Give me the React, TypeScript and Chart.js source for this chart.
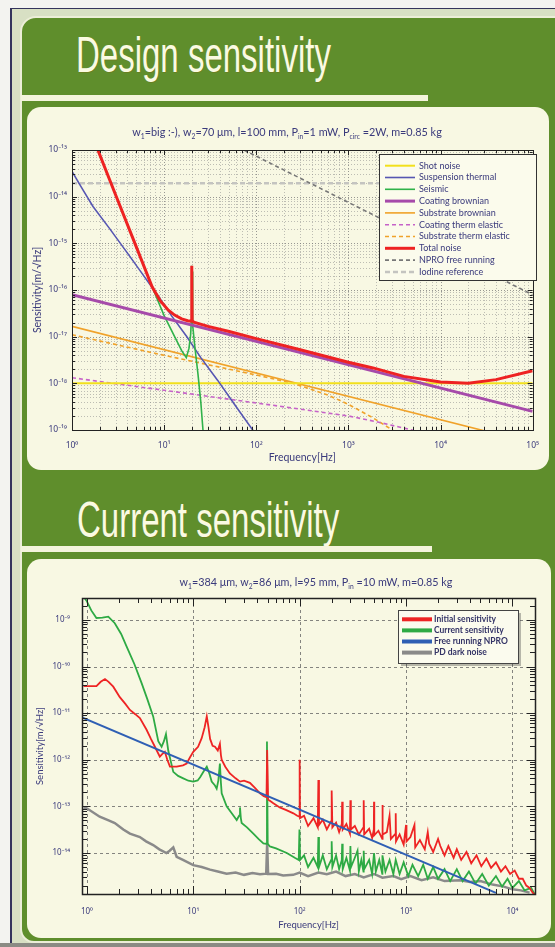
import React, { useEffect, useRef } from "react";
import { Chart, registerables } from "chart.js";

Chart.register(...registerables);

// ================= Design sensitivity (upper chart) =================
const designSubtitle = "w_{1}=big :-), w_{2}=70 μm, l=100 mm, P_{in}=1 mW, P_{circ} =2W, m=0.85 kg";
const designXMajor = [1, 10, 100, 1000, 10000, 100000];
const designYMajor = [1e-19, 1e-18, 1e-17, 1e-16, 1e-15, 1e-14, 1e-13];

const shotFreq = [1, 100000];
const shotVal = [1e-18, 1e-18];

const suspFreq = [1, 1.3, 1.69, 2.55, 4, 5.5, 8.7, 12, 17.5, 25, 38, 60, 97];
const suspVal = [3.47e-14, 1.45e-14, 6.17e-15, 2.09e-15, 6.17e-16, 2.57e-16, 7.24e-17, 2.82e-17, 1.02e-17, 3.55e-18, 1.17e-18, 3.24e-19, 8.5e-20];

const seisFreq = [1.9, 3, 5, 7.4, 10, 13, 15.5, 17.4, 18.6, 19.4, 19.7, 19.9, 20.0, 20.1, 20.4, 21.5, 23.3, 25, 26.4, 28];
const seisVal = [1.0e-13, 1.05e-14, 8.3e-16, 1.17e-16, 2.82e-17, 1.0e-17, 5.0e-18, 3.55e-18, 5.6e-18, 1.12e-17, 2.0e-17, 2.5e-16, 3.3e-16, 2.5e-16, 1.78e-17, 6.3e-18, 1.58e-18, 4.0e-19, 1.0e-19, 3.2e-20];

const coatBrFreq = [1, 100000];
const coatBrVal = [7.94e-17, 2.51e-19];

const subBrFreq = [1, 100000];
const subBrVal = [1.66e-17, 5.25e-20];

const coatTeFreq = [1, 10, 100, 1000, 2000, 4900, 8000];
const coatTeVal = [1.32e-18, 7.1e-19, 3.8e-19, 2.0e-19, 1.51e-19, 1.0e-19, 6.3e-20];

const subTeFreq = [1, 10, 100, 250, 600, 1000, 1850, 3000, 4500];
const subTeVal = [1.1e-17, 3.98e-18, 1.51e-18, 1.0e-18, 5.6e-19, 3.55e-19, 1.82e-19, 1.0e-19, 5.0e-20];

const totalFreq = [1.85, 3, 5, 7.4, 9, 11.1, 13, 15.5, 18, 19.6, 19.85, 19.95, 20.05, 20.15, 21, 30, 50.9, 100, 300, 1000, 1850, 4000, 10000, 20000, 40000, 100000];
const totalVal = [1.17e-13, 1.05e-14, 8.3e-16, 1.17e-16, 6.0e-17, 3.7e-17, 2.9e-17, 2.4e-17, 2.19e-17, 2.14e-17, 2.2e-17, 3.3e-16, 3.3e-16, 2.2e-17, 2.04e-17, 1.66e-17, 1.29e-17, 9.1e-18, 5.25e-18, 2.82e-18, 2.14e-18, 1.41e-18, 1.07e-18, 1.0e-18, 1.2e-18, 1.86e-18];

const nproFreq = [73.5, 100000];
const nproVal = [1e-13, 7.9e-17];

const iodineFreq = [1, 100000];
const iodineVal = [1.95e-14, 1.95e-14];

// ================= Current sensitivity (lower chart) =================
const currentSubtitle = "w_{1}=384 μm, w_{2}=86 μm, l=95 mm, P_{in} =10 mW, m=0.85 kg";
const currentXMajor = [1, 10, 100, 1000, 10000];
const currentYMajor = [1e-15, 1e-14, 1e-13, 1e-12, 1e-11, 1e-10, 1e-9];

const initialFreq = [0.93, 1.0, 1.23, 1.35, 1.48, 1.6, 1.77, 2.04, 2.3, 2.54, 2.85, 3.15, 3.64, 4.0, 4.36, 4.85, 5.1, 5.41, 5.7, 6.04, 6.98, 8.0, 8.67, 9.3, 10, 11.1, 12, 12.8, 13.4, 13.9, 14.4, 15.2, 16.0, 17.0, 17.8, 18.2, 18.5, 20.0, 22.1, 25, 27.5, 30, 34.1, 38, 42.4, 46, 48.8, 49.5, 50.5, 56.6, 65, 75, 87.3, 95, 99.3, 100, 100.8, 110, 120, 135, 148, 150, 152, 165, 180, 198, 200, 203, 220, 235, 249, 251, 254, 275, 297, 300, 303, 330, 360, 398, 400, 404, 450, 480, 498, 500, 503, 550, 598, 600, 604, 660, 700, 720, 798, 800, 805, 870, 950, 1000, 1010, 1100, 1200, 1220, 1350, 1500, 1600, 1650, 1800, 2000, 2100, 2300, 2500, 2800, 3000, 3300, 3700, 4100, 4600, 5100, 5700, 6300, 7000, 7800, 8600, 9500, 10500, 11500, 12500, 13500, 14500, 15500, 16300];
const initialVal = [3.8e-11, 3.8e-11, 3.8e-11, 4.7e-11, 5.4e-11, 4.7e-11, 3.7e-11, 2.2e-11, 1.58e-11, 1.17e-11, 9.5e-12, 7.8e-12, 4.4e-12, 2.8e-12, 1.9e-12, 1.17e-12, 1.32e-12, 1.48e-12, 1.0e-12, 7.1e-13, 7.1e-13, 7.6e-13, 8.3e-13, 1.12e-12, 1.48e-12, 1.9e-12, 2.9e-12, 5.0e-12, 8.5e-12, 5.0e-12, 2.8e-12, 2.0e-12, 1.9e-12, 1.58e-12, 2.2e-12, 1.26e-12, 1.0e-12, 7.1e-13, 5.1e-13, 4.0e-13, 3.4e-13, 3.55e-13, 3.2e-13, 2.5e-13, 1.9e-13, 1.66e-13, 1.58e-13, 1.62e-12, 1.41e-13, 1.17e-13, 9.5e-14, 8.3e-14, 7.1e-14, 6.3e-14, 6.0e-14, 1.0e-12, 5.6e-14, 6.3e-14, 3.8e-14, 5.6e-14, 3.55e-14, 3.7e-13, 4.0e-14, 5.2e-14, 3.2e-14, 4.8e-14, 2.2e-13, 3.55e-14, 4.5e-14, 2.8e-14, 4.2e-14, 1.26e-13, 3.2e-14, 4.2e-14, 2.6e-14, 1.35e-13, 3.2e-14, 3.8e-14, 2.5e-14, 3.55e-14, 1.35e-13, 2.5e-14, 3.3e-14, 2.1e-14, 3.2e-14, 1.26e-13, 2.4e-14, 3.0e-14, 2.0e-14, 1.07e-13, 2.5e-14, 2.8e-14, 6.3e-14, 2.0e-14, 2.6e-14, 7.1e-14, 1.78e-14, 2.5e-14, 1.51e-14, 4.0e-14, 1.78e-14, 2.2e-14, 4.0e-14, 1.32e-14, 1.9e-14, 1.2e-14, 2.8e-14, 1.58e-14, 1.05e-14, 2.0e-14, 1.41e-14, 8.9e-15, 1.41e-14, 7.9e-15, 1.2e-14, 7.1e-15, 1.05e-14, 6.0e-15, 8.9e-15, 5.2e-15, 7.6e-15, 4.8e-15, 6.3e-15, 4.0e-15, 5.2e-15, 3.55e-15, 4.2e-15, 2.8e-15, 2.8e-15, 2.0e-15, 1.78e-15, 1.41e-15, 1.26e-15];

const currentFreq = [0.93, 1.0, 1.1, 1.23, 1.4, 1.59, 1.83, 2.1, 2.36, 2.8, 3.27, 3.7, 4.2, 4.69, 5.04, 5.3, 5.54, 5.82, 6.49, 7.2, 8.05, 9.0, 10, 11.0, 11.6, 12.5, 13.4, 14.2, 14.9, 16.0, 16.6, 17.2, 17.8, 18.2, 18.5, 20.6, 23, 25.6, 27.0, 27.5, 28.0, 28.5, 32, 36.7, 41, 45.6, 48.5, 49.3, 50.1, 52.5, 60, 75.7, 90, 98, 99.6, 101, 110, 120, 135, 148, 150, 152, 165, 180, 198, 200, 203, 220, 235, 249, 251, 254, 275, 297, 300, 304, 330, 350, 360, 380, 398, 400, 405, 450, 480, 500, 520, 560, 598, 600, 640, 700, 760, 800, 870, 950, 1050, 1150, 1300, 1450, 1600, 1800, 2000, 2300, 2600, 3000, 3400, 3900, 4500, 5200, 6000, 7000, 8000, 9000, 10000, 11500, 13000, 15000, 16300];
const currentVal = [3.2e-9, 2.5e-9, 1.6e-9, 1.1e-9, 1.12e-9, 1.17e-9, 8.5e-10, 5.0e-10, 2.7e-10, 1.12e-10, 4.4e-11, 2.0e-11, 8.5e-12, 2.5e-12, 1.9e-12, 2.5e-12, 3.55e-12, 1.58e-12, 5.5e-13, 4.5e-13, 4.0e-13, 3.55e-13, 3.4e-13, 3.6e-13, 4.2e-13, 5.6e-13, 7.1e-13, 5.0e-13, 3.4e-13, 2.8e-13, 2.4e-13, 3.55e-13, 8.3e-13, 3.2e-13, 1.9e-13, 1.0e-13, 7.1e-14, 5.1e-14, 6.3e-14, 9.5e-14, 5.6e-14, 4.4e-14, 3.55e-14, 2.6e-14, 2.0e-14, 1.6e-14, 1.58e-14, 2.45e-12, 1.58e-14, 1.38e-14, 1.26e-14, 1.0e-14, 7.9e-15, 7.1e-15, 3.2e-14, 7.1e-15, 8.9e-15, 5.0e-15, 7.9e-15, 5.0e-15, 2.2e-14, 5.0e-15, 8.9e-15, 4.5e-15, 7.1e-15, 1.78e-14, 5.0e-15, 8.9e-15, 4.5e-15, 7.1e-15, 1.58e-14, 4.5e-15, 7.9e-15, 4.2e-15, 1.41e-14, 5.0e-15, 7.9e-15, 1.12e-14, 4.0e-15, 7.1e-15, 4.0e-15, 1.12e-14, 4.5e-15, 7.1e-15, 3.55e-15, 1.0e-14, 4.0e-15, 7.1e-15, 3.55e-15, 8.9e-15, 4.0e-15, 7.1e-15, 3.55e-15, 7.1e-15, 3.55e-15, 6.3e-15, 3.2e-15, 5.6e-15, 3.2e-15, 5.6e-15, 2.8e-15, 5.0e-15, 2.8e-15, 4.5e-15, 2.5e-15, 4.5e-15, 2.5e-15, 4.0e-15, 2.2e-15, 3.55e-15, 2.0e-15, 3.2e-15, 1.9e-15, 2.8e-15, 1.78e-15, 2.5e-15, 1.58e-15, 1.78e-15, 1.26e-15];

const npro2Freq = [0.9, 7000];
const npro2Val = [8.1e-12, 1.4e-15];

const darkFreq = [0.93, 1.0, 1.32, 1.6, 1.83, 2.2, 2.54, 3.15, 3.6, 4.2, 4.8, 5.6, 6.0, 6.49, 6.98, 8.0, 10, 12, 14.4, 17, 20.6, 25, 30, 36, 42.4, 48.5, 49.5, 50.5, 60, 70, 87, 100, 120, 150, 180, 220, 270, 330, 400, 500, 600, 760, 900, 1100, 1400, 1800, 2300, 3230, 4000, 5000, 6500, 8300, 10000, 12000, 14500];
const darkVal = [9.5e-14, 9.1e-14, 6.0e-14, 5.0e-14, 4.4e-14, 3.2e-14, 2.6e-14, 2.2e-14, 1.78e-14, 1.48e-14, 1.2e-14, 1.0e-14, 1.12e-14, 1.32e-14, 8.3e-15, 7.1e-15, 5.5e-15, 5.0e-15, 4.4e-15, 4.0e-15, 3.6e-15, 3.8e-15, 3.4e-15, 3.7e-15, 3.5e-15, 3.6e-15, 1.62e-14, 3.55e-15, 3.6e-15, 3.3e-15, 3.4e-15, 3.8e-15, 3.2e-15, 3.8e-15, 3.5e-15, 4.0e-15, 3.2e-15, 3.55e-15, 3.0e-15, 3.55e-15, 2.95e-15, 3.2e-15, 2.75e-15, 3.2e-15, 2.6e-15, 3.0e-15, 2.5e-15, 2.6e-15, 2.4e-15, 2.5e-15, 2.1e-15, 1.9e-15, 1.66e-15, 1.58e-15, 1.41e-15];

// ================= helpers =================
const NAVY = "#3a3a7c";
const GREEN = "#5f8e2c";
const CREAM = "#f8f8e3";
const SUP: Record<string, string> = { "0": "⁰", "1": "¹", "2": "²", "3": "³", "4": "⁴", "5": "⁵", "6": "⁶", "7": "⁷", "8": "⁸", "9": "⁹", "-": "⁻" };

const isMajor = (v: number) => Math.abs(Math.log10(v) - Math.round(Math.log10(v))) < 1e-6;
const powLabel = (v: number) => "10" + String(Math.round(Math.log10(v))).split("").map((c) => SUP[c]).join("");

function tickValues(majors: number[], min: number, max: number) {
  const out: number[] = [];
  majors.forEach((m) => {
    for (let k = 1; k <= 9; k++) {
      const v = m * k;
      if (v >= min * 0.9999 && v <= max * 1.0001) out.push(v);
    }
  });
  return out;
}

const pts = (f: number[], v: number[]) => f.map((x, i) => ({ x, y: v[i] }));

function drawRich(ctx: CanvasRenderingContext2D, text: string, cx: number, cy: number, family: string, size: number, color: string, targetW: number) {
  const segs = text
    .split(/(_\{[^}]*\})/)
    .filter((s) => s.length)
    .map((s) => (s.startsWith("_{") ? { t: s.slice(2, -1), sub: true } : { t: s, sub: false }));
  const measure = (fs: number) => {
    let w = 0;
    segs.forEach((s) => {
      ctx.font = `${s.sub ? fs * 0.62 : fs}px ${family}`;
      w += ctx.measureText(s.t).width;
    });
    return w;
  };
  let fs = size;
  const w0 = measure(fs);
  fs = Math.max(size * 0.8, Math.min(size * 1.25, (fs * targetW) / w0));
  const W = measure(fs);
  let x = cx - W / 2;
  ctx.fillStyle = color;
  ctx.textAlign = "left";
  ctx.textBaseline = "alphabetic";
  segs.forEach((s) => {
    const f = s.sub ? fs * 0.62 : fs;
    ctx.font = `${f}px ${family}`;
    ctx.fillText(s.t, x, cy + fs * 0.35 + (s.sub ? fs * 0.28 : 0));
    x += ctx.measureText(s.t).width;
  });
}

function makeDecor(cfg: any) {
  return {
    id: "decor" + cfg.key,
    beforeDatasetsDraw(chart: any) {
      const { ctx, chartArea: a } = chart;
      const xs = chart.scales.x;
      const ys = chart.scales.y;
      ctx.save();
      ctx.beginPath();
      ctx.rect(a.left, a.top, a.right - a.left, a.bottom - a.top);
      ctx.clip();
      xs.ticks.forEach((t: any) => {
        const g = isMajor(t.value) ? cfg.majorGrid : cfg.minorGrid;
        if (!g) return;
        const x = Math.round(xs.getPixelForValue(t.value)) + 0.5;
        ctx.strokeStyle = g.color;
        ctx.lineWidth = g.width;
        ctx.setLineDash(g.dash);
        ctx.beginPath();
        ctx.moveTo(x, a.top);
        ctx.lineTo(x, a.bottom);
        ctx.stroke();
      });
      ys.ticks.forEach((t: any) => {
        const g = isMajor(t.value) ? cfg.majorGrid : cfg.minorGrid;
        if (!g) return;
        const y = Math.round(ys.getPixelForValue(t.value)) + 0.5;
        ctx.strokeStyle = g.color;
        ctx.lineWidth = g.width;
        ctx.setLineDash(g.dash);
        ctx.beginPath();
        ctx.moveTo(a.left, y);
        ctx.lineTo(a.right, y);
        ctx.stroke();
      });
      ctx.restore();
    },
    afterDatasetsDraw(chart: any) {
      const { ctx, chartArea: a } = chart;
      const xs = chart.scales.x;
      const ys = chart.scales.y;
      ctx.save();
      ctx.setLineDash([]);
      ctx.strokeStyle = cfg.frameColor;
      ctx.lineWidth = 1;
      xs.ticks.forEach((t: any) => {
        const len = isMajor(t.value) ? cfg.majorTick : cfg.minorTick;
        const x = Math.round(xs.getPixelForValue(t.value)) + 0.5;
        ctx.beginPath();
        ctx.moveTo(x, a.bottom);
        ctx.lineTo(x, a.bottom - len);
        ctx.moveTo(x, a.top);
        ctx.lineTo(x, a.top + len);
        ctx.stroke();
      });
      ys.ticks.forEach((t: any) => {
        const len = isMajor(t.value) ? cfg.majorTick : cfg.minorTick;
        const y = Math.round(ys.getPixelForValue(t.value)) + 0.5;
        ctx.beginPath();
        ctx.moveTo(a.left, y);
        ctx.lineTo(a.left + len, y);
        ctx.moveTo(a.right, y);
        ctx.lineTo(a.right - len, y);
        ctx.stroke();
      });
      ctx.lineWidth = cfg.frameWidth;
      ctx.strokeRect(Math.round(a.left) + 0.5, Math.round(a.top) + 0.5, Math.round(a.right - a.left), Math.round(a.bottom - a.top));
      ctx.restore();
    },
    afterDraw(chart: any) {
      const ctx = chart.ctx;
      ctx.save();
      drawRich(ctx, cfg.subtitle, cfg.subX, cfg.subY, '"Lato", "Open Sans", sans-serif', cfg.subSize, NAVY, cfg.subW);
      const L = cfg.legend;
      if (L.shadow) {
        ctx.fillStyle = "rgba(60,60,60,0.35)";
        ctx.fillRect(L.x + 3, L.y + 3, L.w, L.h);
      }
      ctx.fillStyle = L.bg;
      ctx.fillRect(L.x, L.y, L.w, L.h);
      ctx.strokeStyle = L.border;
      ctx.lineWidth = 1;
      ctx.setLineDash([]);
      ctx.strokeRect(L.x + 0.5, L.y + 0.5, L.w, L.h);
      chart.data.datasets.forEach((ds: any, i: number) => {
        const y = L.rowY + i * L.rowH;
        ctx.strokeStyle = ds.borderColor;
        ctx.lineWidth = L.lineWidth || ds.borderWidth;
        ctx.setLineDash(ds.borderDash || []);
        ctx.beginPath();
        ctx.moveTo(L.sx1, y);
        ctx.lineTo(L.sx2, y);
        ctx.stroke();
        ctx.setLineDash([]);
        ctx.fillStyle = L.color;
        ctx.font = L.font;
        ctx.textAlign = "left";
        ctx.textBaseline = "middle";
        ctx.fillText(ds.label, L.tx, y);
      });
      ctx.restore();
    },
  };
}

function LogChart({ spec }: { spec: any }) {
  const ref = useRef<HTMLCanvasElement>(null);
  useEffect(() => {
    const xTicks = tickValues(spec.xMajor, spec.xMin, spec.xMax);
    const yTicks = tickValues(spec.yMajor, spec.yMin, spec.yMax);
    const datasets = spec.series.map((s: any) => ({
      label: s.label,
      data: pts(s.freq, s.val),
      borderColor: s.color,
      borderWidth: s.width,
      borderDash: s.dash || [],
      pointRadius: 0,
      fill: false,
      tension: 0,
      order: s.order,
      clip: 0,
    }));
    const tickFont = { family: '"Noto Sans", "DejaVu Sans", sans-serif', size: spec.tickSize };
    const titleFont = { family: '"Lato", "Open Sans", sans-serif', size: spec.titleSize };
    const chart = new Chart(ref.current as HTMLCanvasElement, {
      type: "line",
      data: { datasets },
      plugins: [makeDecor(spec.decor)],
      options: {
        animation: false,
        responsive: false,
        maintainAspectRatio: false,
        events: [],
        layout: { padding: spec.padding },
        plugins: { legend: { display: false }, tooltip: { enabled: false }, title: { display: false } },
        scales: {
          x: {
            type: "logarithmic",
            min: spec.xMin,
            max: spec.xMax,
            afterBuildTicks: (sc: any) => {
              sc.ticks = xTicks.map((v) => ({ value: v }));
            },
            afterFit: (sc: any) => {
              sc.height = spec.xHeight;
            },
            grid: { display: false, drawTicks: false },
            border: { display: false },
            ticks: {
              autoSkip: false,
              maxRotation: 0,
              minRotation: 0,
              padding: spec.xTickPad,
              color: NAVY,
              font: tickFont,
              callback: (v: any) => (isMajor(Number(v)) ? powLabel(Number(v)) : ""),
            },
            title: { display: true, text: "Frequency[Hz]", color: NAVY, font: titleFont, padding: { top: 0, bottom: spec.xTitlePad } },
          },
          y: {
            type: "logarithmic",
            min: spec.yMin,
            max: spec.yMax,
            afterBuildTicks: (sc: any) => {
              sc.ticks = yTicks.map((v) => ({ value: v }));
            },
            afterFit: (sc: any) => {
              sc.width = spec.yWidth;
            },
            grid: { display: false, drawTicks: false },
            border: { display: false },
            ticks: {
              autoSkip: false,
              padding: spec.yTickPad,
              color: NAVY,
              font: tickFont,
              callback: (v: any) => (isMajor(Number(v)) ? powLabel(Number(v)) : ""),
            },
            title: { display: true, text: "Sensitivity[m/√Hz]", color: NAVY, font: titleFont, padding: { top: spec.yTitlePad, bottom: 0 } },
          },
        },
      } as any,
    });
    return () => chart.destroy();
  }, []);
  return <canvas ref={ref} width={spec.w} height={spec.h} style={{ display: "block" }} />;
}

const designSpec = {
  w: 522,
  h: 363,
  padding: { top: 43, right: 9, bottom: 0, left: 0 },
  yWidth: 45,
  xHeight: 40,
  xMin: 1,
  xMax: 100000,
  yMin: 1e-19,
  yMax: 1e-13,
  xMajor: designXMajor,
  yMajor: designYMajor,
  tickSize: 8.5,
  titleSize: 10.5,
  xTickPad: 10,
  yTickPad: 5,
  xTitlePad: 6,
  yTitlePad: 4,
  series: [
    { label: "Shot noise", freq: shotFreq, val: shotVal, color: "#f2e01c", width: 2, order: 5 },
    { label: "Suspension thermal", freq: suspFreq, val: suspVal, color: "#5656b2", width: 1.6, order: 4 },
    { label: "Seismic", freq: seisFreq, val: seisVal, color: "#2fb24a", width: 1.6, order: 3 },
    { label: "Coating brownian", freq: coatBrFreq, val: coatBrVal, color: "#a64aaa", width: 3, order: 2 },
    { label: "Substrate brownian", freq: subBrFreq, val: subBrVal, color: "#f0a22a", width: 1.6, order: 6 },
    { label: "Coating therm elastic", freq: coatTeFreq, val: coatTeVal, color: "#c662c8", width: 1.6, dash: [4, 3], order: 7 },
    { label: "Substrate therm elastic", freq: subTeFreq, val: subTeVal, color: "#f0a22a", width: 1.6, dash: [4, 3], order: 7 },
    { label: "Total noise", freq: totalFreq, val: totalVal, color: "#ee2222", width: 3, order: 0 },
    { label: "NPRO free running", freq: nproFreq, val: nproVal, color: "#777777", width: 1.6, dash: [4, 3], order: 8 },
    { label: "Iodine reference", freq: iodineFreq, val: iodineVal, color: "#c4c4c0", width: 2.5, dash: [5, 3], order: 9 },
  ],
  decor: {
    key: "design",
    minorGrid: { color: "rgba(140,140,140,0.55)", width: 1, dash: [1, 2] },
    majorGrid: { color: "rgba(110,110,110,0.7)", width: 1, dash: [1, 2] },
    frameColor: "#222222",
    frameWidth: 1,
    majorTick: 5,
    minorTick: 3,
    subtitle: designSubtitle,
    subX: 260,
    subY: 25,
    subSize: 10,
    subW: 310,
    legend: {
      x: 352,
      y: 47,
      w: 157,
      h: 126,
      bg: "#fbfbec",
      border: "#333333",
      shadow: false,
      rowY: 58.7,
      rowH: 11.8,
      sx1: 358,
      sx2: 388,
      tx: 392,
      font: '9px "Lato", "Open Sans", sans-serif',
      color: NAVY,
      lineWidth: 0,
    },
  },
};

const currentSpec = {
  w: 524,
  h: 379,
  padding: { top: 39, right: 16, bottom: 0, left: 0 },
  yWidth: 55,
  xHeight: 44,
  xMin: 0.9,
  xMax: 16300,
  yMin: 1.32e-15,
  yMax: 2.95e-9,
  xMajor: currentXMajor,
  yMajor: currentYMajor,
  tickSize: 8,
  titleSize: 9.5,
  xTickPad: 13,
  yTickPad: 12,
  xTitlePad: 7,
  yTitlePad: 7,
  series: [
    { label: "Initial sensitivity", freq: initialFreq, val: initialVal, color: "#ee2424", width: 1.8, order: 1 },
    { label: "Current sensitivity", freq: currentFreq, val: currentVal, color: "#2eaa44", width: 1.8, order: 2 },
    { label: "Free running NPRO", freq: npro2Freq, val: npro2Val, color: "#2f5fb4", width: 2, order: 0 },
    { label: "PD dark noise", freq: darkFreq, val: darkVal, color: "#8a8a8a", width: 2.5, order: 3 },
  ],
  decor: {
    key: "current",
    minorGrid: null,
    majorGrid: { color: "#666666", width: 0.8, dash: [3, 3] },
    frameColor: "#222222",
    frameWidth: 1.5,
    majorTick: 8,
    minorTick: 5,
    subtitle: currentSubtitle,
    subX: 289,
    subY: 23,
    subSize: 10,
    subW: 273,
    legend: {
      x: 371,
      y: 51,
      w: 120,
      h: 53,
      bg: "#fbfbee",
      border: "#444444",
      shadow: true,
      rowY: 60.3,
      rowH: 11.1,
      sx1: 375,
      sx2: 405,
      tx: 407,
      font: 'bold 8.5px "Lato", "Open Sans", sans-serif',
      color: "#333366",
      lineWidth: 4,
    },
  },
};

const abs = (o: any) => ({ position: "absolute" as const, ...o });

export default function App() {
  useEffect(() => {
    document.body.style.margin = "0";
  }, []);
  const titleStyle = {
    fontFamily: '"Liberation Sans", Arial, sans-serif',
    fontSize: 50,
    lineHeight: "50px",
    color: "#fafae2",
    transform: "scaleX(0.66)",
    transformOrigin: "left top",
    whiteSpace: "nowrap" as const,
    textShadow: "1px 1px 0 rgba(120,110,20,0.45)",
  };
  return (
    <div style={abs({ left: 0, top: 0, width: 555, height: 947, overflow: "hidden", background: "#f3f3f0" })}>
      <div style={abs({ left: 10, top: 8, width: 560, height: 945, background: "#d8e0c4", borderLeft: "2px solid #34345c", borderTop: "1px solid #34345c" })} />
      <div
        style={abs({
          left: 20,
          top: 16,
          width: 600,
          height: 927,
          background: GREEN,
          border: "2px solid #eceed8",
          boxSizing: "border-box",
          borderTopLeftRadius: 16,
          borderBottomLeftRadius: 14,
        })}
      />
      <div style={abs({ left: 0, top: 943, width: 555, height: 4, background: "#8b8b84" })} />

      <div style={abs({ left: 76, top: 30, ...titleStyle })}>Design sensitivity</div>
      <div style={abs({ left: 21, top: 95, width: 407, height: 6, background: "#f4f4dc" })} />
      <div style={abs({ left: 27, top: 107, width: 522, height: 363, background: CREAM, borderRadius: 14, overflow: "hidden" })}>
        <LogChart spec={designSpec} />
      </div>

      <div style={abs({ left: 77, top: 495, ...titleStyle })}>Current sensitivity</div>
      <div style={abs({ left: 21, top: 546, width: 411, height: 6, background: "#f4f4dc" })} />
      <div style={abs({ left: 27, top: 559, width: 524, height: 379, background: CREAM, borderRadius: 14, overflow: "hidden" })}>
        <LogChart spec={currentSpec} />
      </div>
    </div>
  );
}
